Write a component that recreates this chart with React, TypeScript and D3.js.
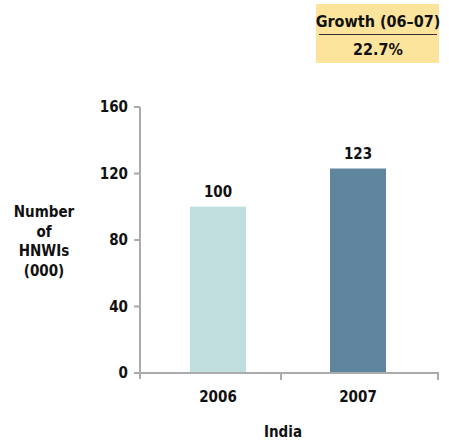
import { useMemo } from 'react';
import * as d3 from 'd3';

// values
const categories = ['2006', '2007'];
const values = [100, 123];
const barColors = ['#bfdedd', '#5f869e'];
const yTicks = [0, 40, 80, 120, 160];
const yLabelLines = ['Number', 'of', 'HNWIs', '(000)'];
const xTitle = 'India';
const growthTitle = 'Growth (06–07)';
const growthValue = '22.7%';

const FONT = '"Liberation Sans Narrow", "DejaVu Sans Condensed", "Roboto", sans-serif';
const AXIS = '#a9abae';

export default function App() {
  const x = useMemo(
    () =>
      d3.scaleBand<string>().domain(categories).range([148, 428]).paddingInner(0.6).paddingOuter(0.3),
    []
  );
  const y = useMemo(() => d3.scaleLinear().domain([0, 160]).range([373, 107]), []);

  const axisLeft = 140;
  const axisRight = 438;
  const boundaries = [
    axisLeft,
    ...categories.slice(1).map((c) => (x(c) || 0) - (x.step() * x.paddingInner()) / 2 - 7),
    axisRight,
  ];

  return (
    <svg
      width={449}
      height={443}
      style={{ position: 'absolute', left: 0, top: 0, background: '#fff' }}
      fontFamily={FONT}
      fontWeight="bold"
    >
      {/* growth box */}
      <rect x={316} y={4} width={123} height={59} fill="#fde49c" />
      <line x1={319} x2={437} y1={34.5} y2={34.5} stroke="#333" strokeWidth={1.2} />
      <text x={378} y={27} textAnchor="middle" fontSize={16} fill="#111">
        {growthTitle}
      </text>
      <text x={378} y={55} textAnchor="middle" fontSize={16} fill="#111">
        {growthValue}
      </text>

      {/* y axis */}
      <line x1={axisLeft} x2={axisLeft} y1={y(160)} y2={y(0) + 6} stroke={AXIS} strokeWidth={2} />
      {yTicks.map((t) => (
        <g key={t}>
          <line x1={axisLeft - 6} x2={axisLeft} y1={y(t)} y2={y(t)} stroke={AXIS} strokeWidth={2} />
          <text x={128} y={y(t)} dy="0.35em" textAnchor="end" fontSize={15} fill="#111">
            {t}
          </text>
        </g>
      ))}

      {/* bars */}
      {categories.map((c, i) => (
        <g key={c}>
          <rect
            x={x(c)}
            y={y(values[i])}
            width={x.bandwidth()}
            height={y(0) - y(values[i])}
            fill={barColors[i]}
          />
          <text
            x={(x(c) || 0) + x.bandwidth() / 2}
            y={y(values[i]) - 10}
            textAnchor="middle"
            fontSize={15}
            fill="#111"
          >
            {values[i]}
          </text>
          <text
            x={(x(c) || 0) + x.bandwidth() / 2}
            y={402}
            textAnchor="middle"
            fontSize={15}
            fill="#111"
          >
            {c}
          </text>
        </g>
      ))}

      {/* x axis */}
      <line x1={axisLeft - 6} x2={axisRight + 1} y1={y(0)} y2={y(0)} stroke={AXIS} strokeWidth={2} />
      {boundaries.slice(1).map((b, i) => (
        <line key={i} x1={b} x2={b} y1={y(0)} y2={y(0) + 7} stroke={AXIS} strokeWidth={2} />
      ))}

      <text x={283} y={437} textAnchor="middle" fontSize={15} fill="#111">
        {xTitle}
      </text>

      {/* y title */}
      {yLabelLines.map((l, i) => (
        <text key={l} x={44} y={217 + i * 19.5} textAnchor="middle" fontSize={15} fill="#111">
          {l}
        </text>
      ))}
    </svg>
  );
}
